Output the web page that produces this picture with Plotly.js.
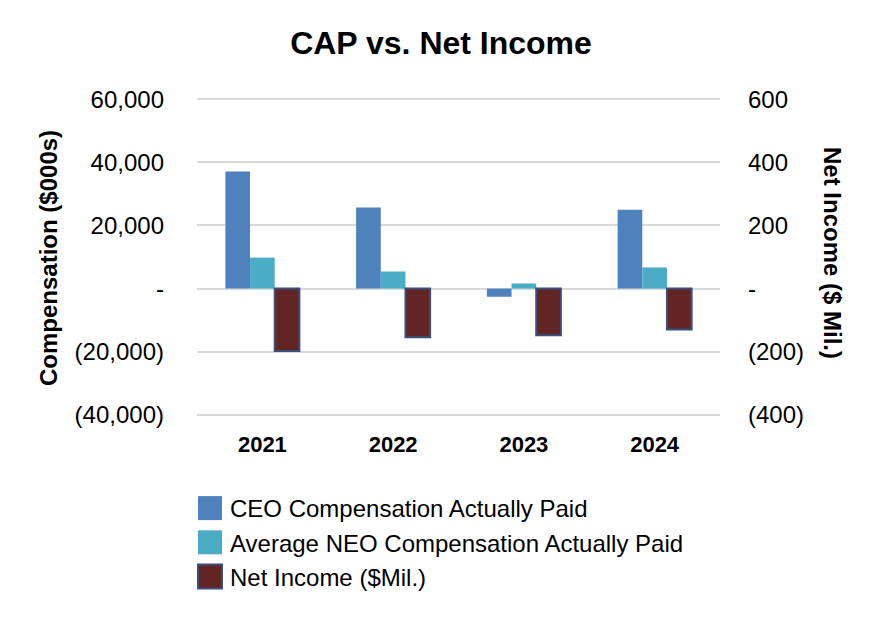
<!DOCTYPE html>
<html>
<head>
<meta charset="utf-8">
<script src="https://cdn.plot.ly/plotly-3.0.1.min.js"></script>
<style>html,body{margin:0;padding:0;background:#fff;}#chart{width:882px;height:632px;}</style>
</head>
<body>
<div id="chart"></div>
<script>
const years = ['2021', '2022', '2023', '2024'];
const ceoCap = [37100, 25700, -2600, 25000];
const neoCap = [9800, 5400, 1600, 6700];
const netIncome = [-198, -154, -148, -130];

const leftTickVals = [-40000, -20000, 0, 20000, 40000, 60000];
const leftTickText = ['(40,000)', '(20,000)', '-', '20,000', '40,000', '60,000'];
const rightTickVals = [-400, -200, 0, 200, 400, 600];
const rightTickText = ['(400)', '(200)', '-', '200', '400', '600'];

const FONT = 'Liberation Sans, Arial, Helvetica, sans-serif';

const traces = [
  {type: 'bar', name: 'CEO Compensation Actually Paid', x: years, y: ceoCap,
   marker: {color: '#4F81BD'}, offsetgroup: '1', yaxis: 'y', hoverinfo: 'none'},
  {type: 'bar', name: 'Average NEO Compensation Actually Paid', x: years, y: neoCap,
   marker: {color: '#4BACC6'}, offsetgroup: '2', yaxis: 'y', hoverinfo: 'none'},
  {type: 'bar', name: 'Net Income ($Mil.)', x: years, y: netIncome,
   marker: {color: '#632523', line: {color: '#3B4F7E', width: 2}}, offsetgroup: '3', yaxis: 'y2', hoverinfo: 'none'}
];

const layout = {
  width: 882, height: 632,
  margin: {l: 197, r: 162, t: 97, b: 215, pad: 0, autoexpand: false},
  paper_bgcolor: '#ffffff', plot_bgcolor: '#ffffff',
  font: {family: FONT, color: '#000000'},
  title: {text: '<b>CAP vs. Net Income</b>', font: {size: 32, family: FONT, color: '#000'},
          x: 0.5, xref: 'container', xanchor: 'center', y: 1 - 43/632, yref: 'container', yanchor: 'middle'},
  barmode: 'group', bargap: 0.434, bargroupgap: 0,
  showlegend: true,
  legend: {x: -7/523, y: -69/320, yanchor: 'top', xanchor: 'left',
           font: {size: 24, family: FONT, color: '#000'}, traceorder: 'normal', bgcolor: 'rgba(0,0,0,0)'},
  xaxis: {type: 'category', tickfont: {size: 22, family: FONT, color: '#000', weight: 'bold'}, automargin: false,
          tickangle: 0, ticks: '', showline: false, showgrid: false, zeroline: false, ticklabelstandoff: 12},
  yaxis: {range: [-40700, 60700], tickvals: leftTickVals, ticktext: leftTickText, automargin: false,
          tickfont: {size: 24, family: FONT, color: '#000'}, showgrid: true, gridcolor: '#D9D9D9', gridwidth: 2,
          zeroline: false, showline: false, ticks: '', ticklabelstandoff: 32, fixedrange: true},
  yaxis2: {range: [-407, 607], tickvals: rightTickVals, ticktext: rightTickText, overlaying: 'y', side: 'right',
           automargin: false,
           tickfont: {size: 24, family: FONT, color: '#000'}, showgrid: false, zeroline: false, showline: false,
           ticks: '', ticklabelstandoff: 27, fixedrange: true},
  annotations: [
    {text: '<b>Compensation ($000s)</b>', xref: 'paper', yref: 'paper', x: (48-197)/523, y: (417-258)/320,
     textangle: -90, showarrow: false, font: {size: 24, family: FONT, color: '#000'}, xanchor: 'center', yanchor: 'middle'},
    {text: '<b>Net Income ($ Mil.)</b>', xref: 'paper', yref: 'paper', x: (833-197)/523, y: (417-253)/320,
     textangle: 90, showarrow: false, font: {size: 24, family: FONT, color: '#000'}, xanchor: 'center', yanchor: 'middle'}
  ]
};

const gd = document.getElementById('chart');
Plotly.newPlot(gd, traces, layout, {displayModeBar: false, staticPlot: true}).then(function () {
  gd.querySelectorAll('.legendpoints path').forEach(function (p) {
    var t = p.getAttribute('transform') || '';
    p.setAttribute('transform', t + ' scale(2)');
    p.style.strokeWidth = '1px';
  });
});
</script>
</body>
</html>
